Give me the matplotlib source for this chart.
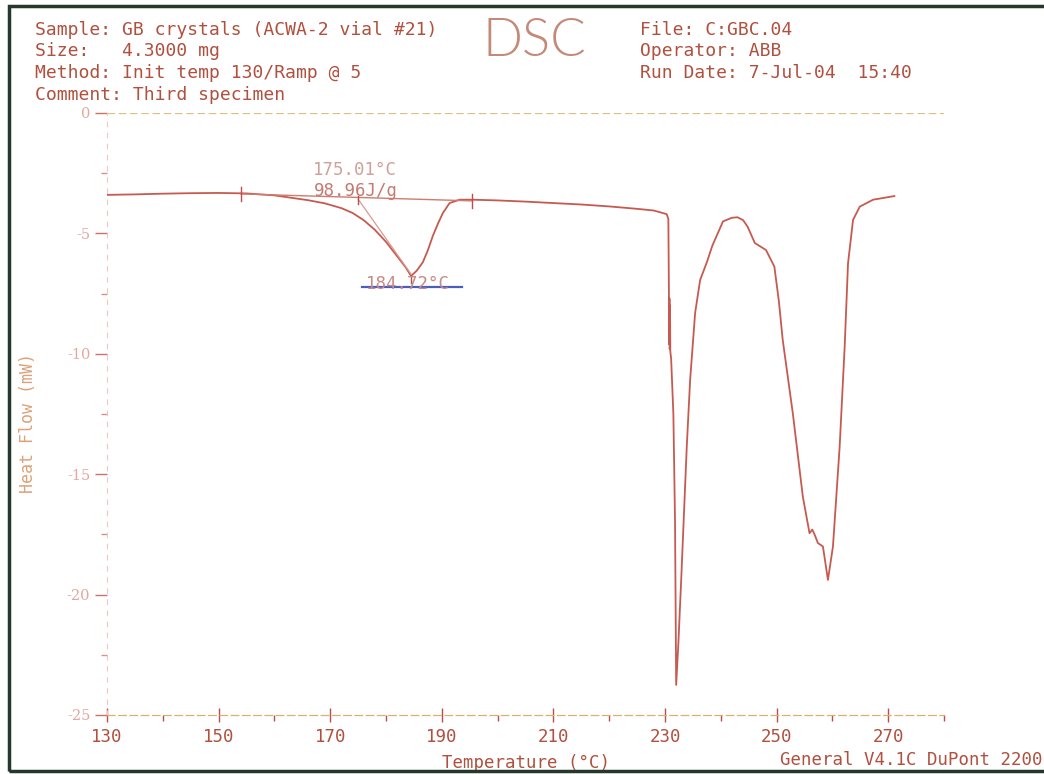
import matplotlib
matplotlib.use("Agg")
import matplotlib.pyplot as plt
from matplotlib.patches import Rectangle

# ---------------- data ----------------
temperature_c = [130.0, 135, 140, 145, 150, 155, 160, 163, 166, 169, 172, 174, 176, 178, 180, 182,
                 183.5, 184.5, 185.5, 186.6, 187.5, 188.4, 189.3, 190.2, 191.4, 193.2, 195.5, 200,
                 205, 210, 215, 220, 225, 228, 230.3, 230.6, 230.7, 230.75, 230.8, 230.85, 230.9,
                 230.95, 231.1, 231.5, 231.8, 232.0, 232.4, 232.9, 233.9, 234.5, 235.4, 236.3,
                 237.5, 238.5, 240.4, 242, 243.0, 244.0, 244.8, 246.1, 248.1, 249.6, 250.4, 251.1,
                 252.9, 254.7, 255.9, 256.4, 256.8, 257.4, 258.3, 259.2, 260.1, 261.3, 262.2,
                 262.8, 263.7, 264.9, 267.3, 271.1]
heat_flow_mw = [-3.40, -3.38, -3.35, -3.33, -3.32, -3.34, -3.42, -3.52, -3.62, -3.75, -3.95, -4.15,
                -4.45, -4.85, -5.35, -5.95, -6.4, -6.77, -6.55, -6.2, -5.7, -5.1, -4.6, -4.15,
                -3.74, -3.6, -3.6, -3.63, -3.68, -3.74, -3.8, -3.88, -3.98, -4.05, -4.2, -4.4,
                -7.4, -9.6, -7.7, -9.8, -8.0, -9.9, -10.2, -12.5, -17.0, -23.75, -22.0, -19.4,
                -13.86, -11.1, -8.3, -6.93, -6.2, -5.5, -4.5, -4.35, -4.33, -4.45, -4.72, -5.4,
                -5.69, -6.38, -7.8, -9.43, -12.46, -15.93, -17.45, -17.3, -17.5, -17.86, -18.0,
                -19.39, -18.0, -13.86, -9.7, -6.24, -4.44, -3.89, -3.6, -3.45]

integration_limits_c = [154.0, 195.5]
integration_limits_mw = [-3.36, -3.65]
onset_temp_c = 175.01
onset_flow_mw = -3.58
peak_temp_c = 184.72
peak_flow_mw = -6.7
onset_label = "175.01°C"
enthalpy_label = "98.96J/g"
peak_label = "184.72°C"

x_major_ticks = [130, 150, 170, 190, 210, 230, 250, 270]
x_minor_ticks = [140, 160, 180, 200, 220, 240, 260, 280]
y_major_ticks = [0, -5, -10, -15, -20, -25]
y_minor_ticks = [-2.5, -7.5, -12.5, -17.5, -22.5]

header_left = ["Sample: GB crystals (ACWA-2 vial #21)",
               "Size:   4.3000 mg",
               "Method: Init temp 130/Ramp @ 5",
               "Comment: Third specimen"]
header_right = ["File: C:GBC.04",
                "Operator: ABB",
                "Run Date: 7-Jul-04  15:40"]

# ---------------- styles ----------------
W, H = 1044, 774
TXT = "#b0503e"
CURVE = "#c65a50"
MONO = "DejaVu Sans Mono"

fig = plt.figure(figsize=(W / 100, H / 100), dpi=100)
fig.patch.set_facecolor("white")


def fx(px):
    return px / W


def fy(py):
    return 1 - py / H


ax = fig.add_axes([fx(107), fy(715), fx(944) - fx(107), fy(113) - fy(715)])
ax.set_xlim(130, 280)
ax.set_ylim(-25, 0)

ax.plot(temperature_c, heat_flow_mw, color=CURVE, lw=1.3, solid_joinstyle="round")

# integration baseline & markers
ax.plot(integration_limits_c, integration_limits_mw, color="#d07a70", lw=1.0)
for t, v in zip(integration_limits_c, integration_limits_mw):
    ax.plot([t, t], [v + 0.3, v - 0.3], color="#b85048", lw=1.0)
ax.plot([onset_temp_c, peak_temp_c - 0.2], [onset_flow_mw, peak_flow_mw], color="#d89a92", lw=0.9)
ax.plot([onset_temp_c, onset_temp_c], [onset_flow_mw + 0.15, onset_flow_mw - 0.2], color="#b85048", lw=1.0)
ax.plot([peak_temp_c - 0.3, peak_temp_c - 0.3], [peak_flow_mw - 0.1, peak_flow_mw - 0.35], color="#b85048", lw=1.0)

ax.text(174.4, -2.37, onset_label, ha="center", va="center", family=MONO, fontsize=12.5, color="#d0a09a")
ax.text(174.6, -3.25, enthalpy_label, ha="center", va="center", family=MONO, fontsize=12.5, color="#c47a70")
ax.text(183.9, -7.12, peak_label, ha="center", va="center", family=MONO, fontsize=12.5, color="#c88a86")
ax.plot([175.7, 193.6], [-7.22, -7.22], color="#4a5cc0", lw=1.6)

# axes styling
for s in ["right", "top"]:
    ax.spines[s].set_visible(False)
ax.spines["left"].set_color("#ecc8c0")
ax.spines["left"].set_linestyle((0, (4, 6)))
ax.spines["left"].set_linewidth(0.8)
ax.spines["bottom"].set_color("#d8b070")
ax.spines["bottom"].set_linestyle((0, (6, 3)))
ax.spines["bottom"].set_linewidth(0.9)
ax.axhline(0, color="#dcc080", lw=0.9, ls=(0, (6, 3)))

ax.set_xticks(x_major_ticks)
ax.set_xticks(x_minor_ticks, minor=True)
ax.set_xticklabels([str(v) for v in x_major_ticks], family=MONO, fontsize=12.5, color=TXT)
ax.tick_params(axis="x", which="major", direction="inout", length=10, width=1.0, color="#b85048", pad=4)
ax.tick_params(axis="x", which="minor", direction="out", length=4, width=1.0, color="#b85048")

ax.set_yticks(y_major_ticks)
ax.set_yticks(y_minor_ticks, minor=True)
ax.set_yticklabels([str(v) for v in y_major_ticks], family="DejaVu Serif", fontsize=10.5, color="#e0a8a0")
ax.tick_params(axis="y", which="major", direction="out", length=9, width=1.0, color="#cc7068", pad=3)
ax.tick_params(axis="y", which="minor", direction="out", length=4, width=1.0, color="#d89088")

ax.set_xlabel("Temperature (°C)", family=MONO, fontsize=12.5, color=TXT, labelpad=6)
ax.set_facecolor("none")

# y-axis title placed in figure pixels so it is not clipped
fig.text(fx(28), fy(423), "Heat Flow (mW)", family=MONO, fontsize=12, color="#dca27a",
         rotation=90, ha="center", va="center")

# header
for i, line in enumerate(header_left):
    fig.text(fx(35), fy(30 + i * 21.5), line, family=MONO, fontsize=13, color=TXT, va="center", ha="left")
for i, line in enumerate(header_right):
    fig.text(fx(640), fy(30 + i * 21.5), line, family=MONO, fontsize=13, color=TXT, va="center", ha="left")
fig.text(fx(534), fy(41), "DSC", family="Lato", fontweight=300, fontsize=38, color="#c48a78",
         ha="center", va="center")
fig.text(fx(1042), fy(760), "General V4.1C DuPont 2200", family=MONO, fontsize=12.5, color=TXT,
         ha="right", va="center")

# outer frame
fig.add_artist(Rectangle((fx(9), fy(771)), fx(1060) - fx(9), fy(6) - fy(771), transform=fig.transFigure,
                         fill=False, edgecolor="#26382e", lw=2.5))

fig.savefig("out.png", dpi=100)
